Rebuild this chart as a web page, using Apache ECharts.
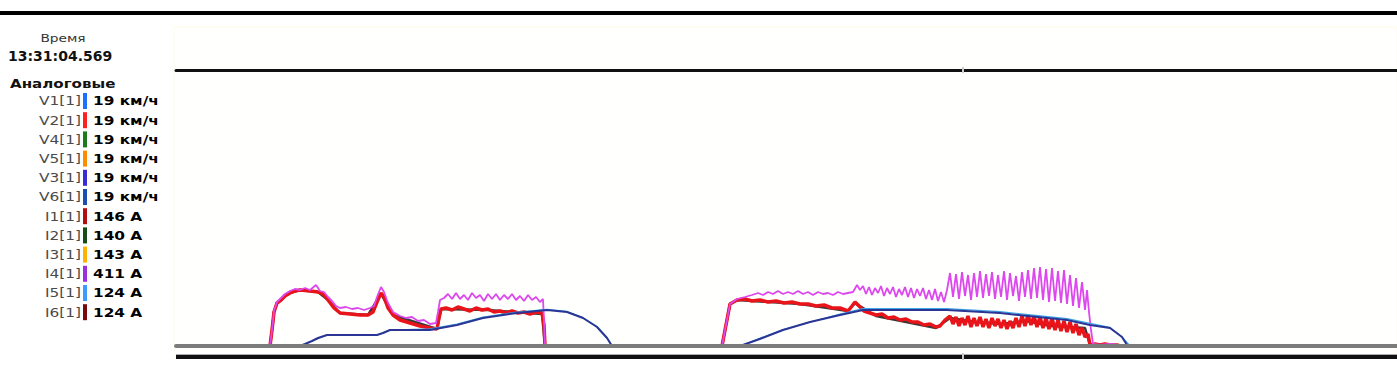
<!DOCTYPE html>
<html><head><meta charset="utf-8">
<script src="https://cdn.jsdelivr.net/npm/echarts@6/dist/echarts.min.js"></script>
<style>html,body{margin:0;padding:0;background:#fff}#c{width:1397px;height:372px}</style>
</head><body><div id="c"></div>
<script>
// ---- readout panel (cursor values) ----
const cursorTime = '13:31:04.569';
const channelNames = ['V1[1]','V2[1]','V4[1]','V5[1]','V3[1]','V6[1]','I1[1]','I2[1]','I3[1]','I4[1]','I5[1]','I6[1]'];
const channelValues = ['19 км/ч','19 км/ч','19 км/ч','19 км/ч','19 км/ч','19 км/ч','146 A','140 A','143 A','411 A','124 A','124 A'];

// ---- series: [time s, value] ----
const currentI1 = [[0,0],[18.8,0],[19.2,96],[19.6,204],[20.2,258],[21.0,276],[21.8,300],[22.8,318],[23.8,330],[24.8,336],[26.8,330],[28.4,324],[29.4,312],[30.4,276],[31.6,228],[32.8,198],[34.8,192],[36.8,186],[38.4,186],[39.4,204],[40.2,264],[41.0,318],[41.6,294],[42.4,228],[43.4,186],[44.8,156],[46.8,138],[48.8,120],[50.8,108],[52.2,102],[52.6,168],[53.0,222],[54.0,228],[55.2,216],[56.4,234],[57.6,222],[58.8,210],[60.0,228],[61.2,216],[62.4,222],[63.6,204],[64.8,210],[66.0,198],[67.2,210],[68.4,198],[69.6,204],[70.8,192],[72.0,204],[73.2,198],[73.6,126],[73.8,0],
[109.2,0],[110.0,126],[110.8,252],[112.2,276],[113.8,282],[115.2,270],[116.8,276],[118.4,264],[120.0,270],[121.6,258],[123.2,264],[124.8,252],[126.4,252],[128.0,240],[129.6,246],[131.2,228],[132.8,228],[134.4,210],[135.2,240],[135.8,264],[136.6,240],[137.6,210],[138.8,198],[140.0,186],[141.2,192],[142.4,168],[143.6,174],[144.8,156],[146.0,162],[147.2,144],[148.4,144],[149.6,126],[150.8,132],[152.0,114],[152.8,120],[153.8,156],[154.8,180],
[155.4,132],[156.0,174],[156.6,120],[157.2,168],[157.8,126],[158.4,180],[159.0,114],[159.6,168],[160.2,120],[160.8,174],[161.4,114],[162.0,162],[162.6,108],[163.2,168],[163.8,120],[164.4,162],[165.0,108],[165.6,156],[166.2,102],[166.8,150],[167.4,108],[168.0,168],[168.6,114],[169.2,180],[169.8,120],[170.4,186],[171.0,126],[171.6,180],[172.2,114],[172.8,174],[173.4,108],[174.0,168],[174.6,102],[175.2,168],[175.8,96],[176.4,156],[177.0,90],[177.6,150],[178.2,84],[178.8,144],[179.4,78],[180.0,132],[180.6,66],[181.2,108],[181.8,54],[182.4,72],[182.8,6],[183.8,12],[184.8,6],[185.8,12],[186.8,6],[188.2,6],[188.8,0],[244.2,0]];

const currentI4 = [[0,0],[18.8,0],[19.2,96],[19.6,210],[20.2,264],[21.0,288],[21.8,312],[22.8,330],[23.8,342],[24.8,336],[25.8,348],[26.8,336],[28.0,366],[28.8,330],[29.6,324],[30.4,294],[31.2,270],[32.0,240],[32.8,228],[34.0,234],[35.2,222],[36.4,228],[37.6,216],[38.8,228],[39.6,240],[40.2,294],[41.0,354],[41.6,324],[42.4,258],[43.4,204],[44.8,180],[46.0,168],[47.2,174],[48.4,150],[49.6,156],[50.8,132],[52.0,138],[52.4,204],[52.8,276],
[53.6,288],[54.4,312],[55.2,282],[56.0,318],[56.8,282],[57.6,306],[58.4,276],[59.2,318],[60.0,288],[60.8,306],[61.6,270],[62.4,312],[63.2,282],[64.0,312],[64.8,276],[65.6,306],[66.4,282],[67.2,312],[68.0,276],[68.8,300],[69.6,270],[70.4,306],[71.2,276],[72.0,294],[72.8,264],[73.4,282],[73.6,156],[73.8,0],
[109.2,0],[110.0,126],[110.8,252],[112.2,282],[113.8,294],[115.2,306],[116.4,318],[117.4,306],[118.4,324],[119.4,312],[120.4,330],[121.4,312],[122.4,324],[123.4,312],[124.4,330],[125.4,312],[126.4,324],[127.4,306],[128.4,324],[129.4,312],[130.4,318],[131.4,306],[132.4,324],[133.4,312],[134.4,318],[135.4,324],
[136.2,366],[136.8,336],[137.4,360],[138.0,312],[138.6,354],[139.2,306],[139.8,348],[140.4,318],[141.0,360],[141.6,300],[142.2,348],[142.8,312],[143.4,354],[144.0,294],[144.6,342],[145.2,306],[145.8,354],[146.4,294],[147.0,348],[147.6,288],[148.2,342],[148.8,300],[149.4,348],[150.0,282],[150.6,336],[151.2,276],[151.8,342],[152.4,270],[153.0,324],[153.6,264],[154.2,336],
[154.8,438],[155.4,294],[156.0,432],[156.6,282],[157.2,444],[157.8,300],[158.4,426],[159.0,276],[159.6,438],[160.2,294],[160.8,450],[161.4,288],[162.0,432],[162.6,300],[163.2,444],[163.8,282],[164.4,426],[165.0,294],[165.6,450],[166.2,276],[166.8,438],[167.4,300],[168.0,420],[168.6,270],[169.2,444],[169.8,294],[170.4,456],[171.0,282],[171.6,468],[172.2,288],[172.8,474],[173.4,276],[174.0,462],[174.6,264],[175.2,468],[175.8,270],[176.4,450],[177.0,258],[177.6,456],[178.2,252],[178.8,426],[179.4,240],[180.0,408],[180.6,228],[181.2,384],[181.8,216],[182.2,336],[182.6,204],[183.0,96],[183.4,12],[184.8,6],[186.8,12],[188.4,6],[188.8,0],[244.2,0]];

const currentI6 = [[0,0],[18.8,0],[19.2,96],[19.6,204],[20.2,258],[21.0,276],[21.8,300],[22.8,318],[24.8,336],[28.4,324],[30.4,276],[32.8,198],[38.4,186],[41.0,312],[43.4,186],[52.2,102],[53.0,222],[62.4,216],[73.2,192],[73.8,0],[109.2,0],[110.0,126],[110.8,252],[112.2,276],[124.8,252],[134.4,210],[135.8,258],[140.0,180],[152.0,108],[154.8,168],[160.0,144],[165.0,132],[170.0,150],[175.0,120],[181.8,108],[182.8,6],[188.8,0],[244.2,0]];

const speedV3 = [[0,0],[24.8,0],[25.8,1.1],[27.2,2.75],[28.4,4.4],[30.2,6.05],[40.2,6.05],[41.4,7.15],[42.8,8.8],[50.8,8.8],[56.2,11.55],[61.4,15.4],[68.2,18.15],[74.2,19.8],[78.2,18.7],[81.4,15.4],[84.2,10.45],[86.2,4.4],[87.2,0],[112.8,0],[116.2,3.3],[121.4,8.8],[126.8,13.2],[132.8,17.05],[137.4,19.8],[154.2,19.8],[164.8,18.15],[178.2,14.3],[182.8,11.55],[186.8,9.9],[189.2,4.95],[190.2,0.55],[190.8,0],[244.2,0]];

const speedV1 = [[0,0],[24.8,0],[30.2,6.05],[40.2,6.05],[42.8,8.8],[50.8,9.4],[56.2,12.1],[61.4,15.9],[68.2,18.7],[74.2,20.1],[78.2,19.0],[81.4,15.6],[84.2,10.7],[86.2,4.6],[87.2,0],[112.8,0],[121.4,9.1],[132.8,17.6],[137.4,20.6],[154.2,20.6],[164.8,18.9],[178.2,15.1],[182.8,12.4],[186.8,10.2],[189.2,4.95],[190.8,0],[244.2,0]];

const barColors = ['#1f6fff','#ff2020','#1d7a1d','#ff8c00','#3a2bd6','#1a4fb0','#b01010','#164d16','#ffb300','#9b2fe0','#3d9bff','#7a0a0a'];

const chart = echarts.init(document.getElementById('c'), null, {renderer:'svg'});
const FONT = '"DejaVu Sans", Verdana, sans-serif';
const SX = 1.28;
const graphics = [
  {type:'rect', shape:{x:174,y:27,width:1223,height:330}, style:{fill:'#fffffd', stroke:'#fffbe8', lineWidth:1}, z:-10, silent:true},
  {type:'rect', shape:{x:0,y:11,width:1397,height:4}, style:{fill:'#000'}},
  {type:'rect', shape:{x:176,y:355,width:1221,height:4}, style:{fill:'#111'}},
  {type:'rect', shape:{x:176,y:354,width:1221,height:1}, style:{fill:'#aaa'}},
  {type:'rect', shape:{x:962,y:353,width:2,height:7}, style:{fill:'#ccc'}, z:10},
  {type:'rect', shape:{x:962,y:67,width:2,height:6}, style:{fill:'#ccc'}, z:10},
  {type:'text', x:63, y:38, scaleX:1.25, style:{text:'Время', font:'11px '+FONT, fill:'#333', align:'center', verticalAlign:'middle'}},
  {type:'text', x:8, y:56, scaleX:1.0, style:{text:cursorTime, font:'bold 14px '+FONT, fill:'#111', align:'left', verticalAlign:'middle'}},
  {type:'text', x:10, y:84, scaleX:1.26, style:{text:'Аналоговые', font:'bold 12px '+FONT, fill:'#111', align:'left', verticalAlign:'middle'}}
];
channelNames.forEach((n,i)=>{
  const yc = 101 + 19.2*i;
  graphics.push({type:'text', x:81, y:yc, scaleX:SX, style:{text:n, font:'12px '+FONT, fill:'#4a4a4a', align:'right', verticalAlign:'middle'}});
  graphics.push({type:'rect', shape:{x:83,y:yc-8,width:4,height:16}, style:{fill:barColors[i]}});
  graphics.push({type:'text', x:93, y:yc, scaleX:SX, style:{text:channelValues[i], font:'bold 12px '+FONT, fill:'#000', align:'left', verticalAlign:'middle'}});
});

function line(name, data, color, width, yIdx, z){
  return {name, type:'line', data, xAxisIndex:0, yAxisIndex:yIdx, showSymbol:false, symbol:'none', z,
    lineStyle:{color, width}, itemStyle:{color}, animation:false};
}

chart.setOption({
  animation:false,
  backgroundColor:'#fff',
  grid:{left:176, right:0, top:70, bottom:26, containLabel:false},
  xAxis:[
    {type:'value', min:0, max:244.2, position:'bottom', z:8, axisLine:{show:true, onZero:false, lineStyle:{color:'#7c7c7c', width:4}}, axisTick:{show:false}, axisLabel:{show:false}, splitLine:{show:false}},
    {type:'value', min:0, max:244.2, position:'top', axisLine:{show:true, onZero:false, lineStyle:{color:'#111', width:3}}, axisTick:{show:false}, axisLabel:{show:false}, splitLine:{show:false}}
  ],
  yAxis:[
    {type:'value', min:0, max:1656, show:false, splitLine:{show:false}},
    {type:'value', min:0, max:151.8, show:false, splitLine:{show:false}}
  ],
  series:[
    line('I6[1]', currentI6, '#3a3a3a', 2.5, 0, 2),
    line('I1[1]', currentI1, '#e8141a', 3.5, 0, 3),
    line('I4[1]', currentI4, '#dd48ee', 1.8, 0, 4),
    line('V1[1]', speedV1, '#3aa7e6', 1.2, 1, 5),
    line('V3[1]', speedV3, '#2a3596', 2, 1, 6)
  ],
  graphic: graphics
});
</script></body></html>
